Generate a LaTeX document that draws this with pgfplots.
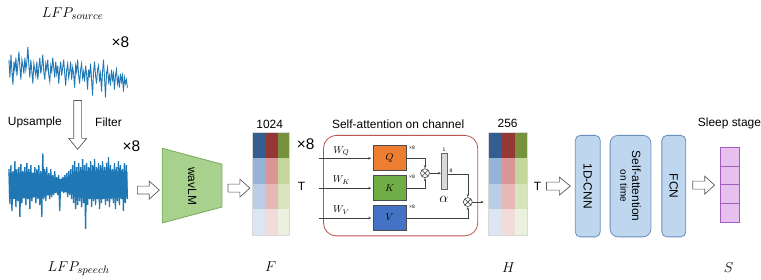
\documentclass[border=0pt]{standalone}
\usepackage{fontspec}
\setmainfont{Liberation Sans}
\usepackage{pgfplots}
\pgfplotsset{compat=1.18}
\usetikzlibrary{arrows.meta,plotmarks}
\definecolor{sig}{RGB}{31,119,180}
\definecolor{wlfill}{RGB}{169,209,142}
\definecolor{wldraw}{RGB}{120,170,90}
\definecolor{bA}{RGB}{52,93,145}\definecolor{rA}{RGB}{149,55,53}\definecolor{gA}{RGB}{118,146,60}
\definecolor{bB}{RGB}{149,179,215}\definecolor{rB}{RGB}{217,150,148}\definecolor{gB}{RGB}{195,214,155}
\definecolor{bC}{RGB}{185,205,229}\definecolor{rC}{RGB}{230,185,184}\definecolor{gC}{RGB}{215,228,188}
\definecolor{bD}{RGB}{220,230,242}\definecolor{rD}{RGB}{242,220,219}\definecolor{gD}{RGB}{235,241,222}
\definecolor{attn}{RGB}{184,84,80}
\definecolor{qcol}{RGB}{237,125,49}\definecolor{kcol}{RGB}{112,173,71}\definecolor{vcol}{RGB}{68,114,196}
\definecolor{boxfill}{RGB}{190,215,238}\definecolor{boxdraw}{RGB}{108,142,191}
\definecolor{slfill}{RGB}{232,192,240}\definecolor{sldraw}{RGB}{160,95,190}
\definecolor{arr}{RGB}{90,90,90}
\newcommand{\cell}[5]{\addplot[fill=#5,draw=none] coordinates {(#1,#2) (#3,#2) (#3,#4) (#1,#4)} -- cycle;}
\newcommand{\fs}{\fontsize{12}{13.5}\selectfont}
\begin{document}
\begin{tikzpicture}
\begin{axis}[scale only axis, width=761pt, height=280pt, xmin=0, xmax=761, ymin=0, ymax=280,
  y dir=reverse, hide axis, clip=false]
\addplot[draw=none, forget plot] coordinates {(0,0) (761,280)};
% top signal
\addplot[sig, line width=0.9pt] table {
9 60
10 78
11 55
12 72
13 85
14 62
15 70
16 58
17 76
18 64
19 52
20 68
21 80
22 60
23 66
24 74
25 58
26 70
27 62
28 47
29 66
30 78
31 60
32 72
33 84
34 64
35 70
36 76
37 62
38 80
39 68
40 58
41 74
42 66
43 55
44 72
45 80
46 64
47 70
48 60
49 76
50 82
51 66
52 72
53 58
54 68
55 78
56 62
57 74
58 66
59 84
60 70
61 62
62 76
63 68
64 60
65 74
66 86
67 70
68 64
69 78
70 72
71 62
72 80
73 68
74 74
75 88
76 66
77 72
78 60
79 76
80 84
81 70
82 64
83 78
84 72
85 82
86 66
87 74
88 90
89 70
90 78
91 64
92 80
93 96
94 72
95 62
96 76
97 84
98 70
99 66
100 80
101 74
102 92
103 72
104 60
105 78
106 98
107 74
108 68
109 82
110 76
111 86
112 70
113 80
114 74
115 90
116 76
117 70
118 84
119 78
120 88
121 74
122 82
123 76
124 92
125 78
126 84
127 80
128 88
};
% bottom signal core band
\addplot[fill=sig, draw=none] coordinates {(9,174) (30,173) (50,176) (60,180) (70,177) (80,172) (100,171) (128,173) (128,198) (100,200) (80,199) (70,194) (60,192) (50,196) (30,199) (9,200)} -- cycle;
% bottom signal
\addplot[sig, line width=1.3pt] table {
9 170
10 205
11 166
12 212
13 172
14 200
15 162
16 208
17 170
18 202
19 168
20 218
21 165
22 204
23 172
24 198
25 168
26 206
27 164
28 200
29 170
30 210
31 166
32 202
33 174
34 198
35 168
36 204
37 170
38 200
39 166
40 206
41 172
42 218
43 154
44 200
45 170
46 202
47 168
48 196
49 174
50 200
51 170
52 198
53 176
54 196
55 172
56 194
57 178
58 196
59 176
60 212
61 180
62 192
63 178
64 194
65 176
66 192
67 174
68 198
69 172
70 196
71 170
72 200
73 166
74 204
75 162
76 210
77 168
78 206
79 164
80 202
81 168
82 208
83 160
84 204
85 166
86 230
87 164
88 206
89 168
90 200
91 162
92 208
93 166
94 202
95 160
96 206
97 168
98 200
99 164
100 210
101 166
102 204
103 162
104 200
105 168
106 206
107 164
108 202
109 158
110 208
111 166
112 200
113 170
114 204
115 164
116 210
117 168
118 202
119 162
120 206
121 166
122 200
123 170
124 212
125 164
126 204
127 166
128 200
};
% hollow arrows
\addplot[draw=arr, fill=white, line width=0.7pt] coordinates {(74,101) (82,101) (82,139) (87,139) (78,150) (69,139) (74,139)} -- cycle;
\addplot[draw=arr, fill=white, line width=0.7pt] coordinates {(138,187) (150,187) (150,182) (160,191) (150,200) (150,195) (138,195)} -- cycle;
\addplot[draw=arr, fill=white, line width=0.7pt] coordinates {(229,185) (241,185) (241,180) (251,189) (241,198) (241,193) (229,193)} -- cycle;
\addplot[draw=arr, fill=white, line width=0.7pt] coordinates {(549,183) (562,183) (562,178) (573,187) (562,196) (562,191) (549,191)} -- cycle;
\addplot[draw=arr, fill=white, line width=0.7pt] coordinates {(696,182) (708,182) (708,177) (718,186) (708,195) (708,190) (696,190)} -- cycle;
% wavLM trapezoid
\addplot[draw=wldraw, fill=wlfill, line width=0.8pt] coordinates {(163,149) (223,165) (223,208) (163,224)} -- cycle;
% F matrix
\cell{253}{133}{266}{159}{bA}\cell{266}{133}{279}{159}{rA}\cell{279}{133}{291}{159}{gA}
\cell{253}{159}{266}{185}{bB}\cell{266}{159}{279}{185}{rB}\cell{279}{159}{291}{185}{gB}
\cell{253}{185}{266}{210}{bC}\cell{266}{185}{279}{210}{rC}\cell{279}{185}{291}{210}{gC}
\cell{253}{210}{266}{236}{bD}\cell{266}{210}{279}{236}{rD}\cell{279}{210}{291}{236}{gD}
\addplot[draw=black!15, line width=0.6pt] coordinates {(253,133) (291,133) (291,236) (253,236)} -- cycle;
% H matrix
\cell{491}{133}{504}{159}{bA}\cell{504}{133}{517}{159}{rA}\cell{517}{133}{530}{159}{gA}
\cell{491}{159}{504}{185}{bB}\cell{504}{159}{517}{185}{rB}\cell{517}{159}{530}{185}{gB}
\cell{491}{185}{504}{210}{bC}\cell{504}{185}{517}{210}{rC}\cell{517}{185}{530}{210}{gC}
\cell{491}{210}{504}{236}{bD}\cell{504}{210}{517}{236}{rD}\cell{517}{210}{530}{236}{gD}
\addplot[draw=black!15, line width=0.6pt] coordinates {(491,133) (530,133) (530,236) (491,236)} -- cycle;
% attention box
\addplot[draw=attn, line width=0.8pt, rounded corners=13pt] coordinates {(325,136) (480,136) (480,237) (325,237)} -- cycle;
% W lines
\addplot[black!75, line width=0.6pt, -{Stealth[length=3pt,width=2.5pt]}] coordinates {(320,159) (373,159)};
\addplot[black!75, line width=0.6pt, -{Stealth[length=3pt,width=2.5pt]}] coordinates {(320,189) (373,189)};
\addplot[black!75, line width=0.6pt, -{Stealth[length=3pt,width=2.5pt]}] coordinates {(320,219) (373,219)};
% Q K V boxes
\addplot[fill=qcol, draw=black!70, line width=0.7pt] coordinates {(375,146) (408,146) (408,171) (375,171)} -- cycle;
\addplot[fill=kcol, draw=black!70, line width=0.7pt] coordinates {(375,176) (408,176) (408,201) (375,201)} -- cycle;
\addplot[fill=vcol, draw=black!70, line width=0.7pt] coordinates {(375,206) (408,206) (408,231) (375,231)} -- cycle;
% connections
\addplot[black!75, line width=0.6pt, -{Stealth[length=3pt,width=2.5pt]}] coordinates {(409,159) (427,159) (427,169)};
\addplot[black!75, line width=0.6pt, -{Stealth[length=3pt,width=2.5pt]}] coordinates {(409,189) (427,189) (427,179)};
\addplot[black!75, line width=0.6pt, -{Stealth[length=3pt,width=2.5pt]}] coordinates {(431.5,174) (443,174)};
\addplot[black!75, line width=0.6pt, -{Stealth[length=3pt,width=2.5pt]}] coordinates {(449,175) (470,175) (470,198)};
\addplot[black!75, line width=0.6pt, -{Stealth[length=3pt,width=2.5pt]}] coordinates {(409,219) (470,219) (470,208)};
\addplot[black!75, line width=0.6pt, -{Stealth[length=3pt,width=2.5pt]}] coordinates {(474.5,203) (486,203)};
% alpha bar
\addplot[fill=black!15, draw=black!60, line width=0.6pt] coordinates {(443,154) (449,154) (449,190) (443,190)} -- cycle;
% otimes
\addplot[only marks, mark=otimes*, mark size=4.5pt, mark options={fill=white, draw=black!75, line width=0.6pt}] coordinates {(427,174) (470,203)};
% blue boxes
\addplot[fill=boxfill, draw=boxdraw, line width=0.8pt, rounded corners=5pt] coordinates {(578,136) (603,136) (603,238) (578,238)} -- cycle;
\addplot[fill=boxfill, draw=boxdraw, line width=0.8pt, rounded corners=8pt] coordinates {(613,136) (654,136) (654,238) (613,238)} -- cycle;
\addplot[fill=boxfill, draw=boxdraw, line width=0.8pt, rounded corners=5pt] coordinates {(665,136) (689,136) (689,238) (665,238)} -- cycle;
% sleep stage
\addplot[fill=slfill, draw=sldraw, line width=0.8pt] coordinates {(724,148) (743,148) (743,223) (724,223)} -- cycle;
\addplot[draw=sldraw, line width=0.8pt] coordinates {(724,166.75) (743,166.75)};
\addplot[draw=sldraw, line width=0.8pt] coordinates {(724,185.5) (743,185.5)};
\addplot[draw=sldraw, line width=0.8pt] coordinates {(724,204.25) (743,204.25)};
% texts
\node at (axis cs:73,14) {\fontsize{15}{17}\selectfont $LFP_{source}$};
\node at (axis cs:121,42) {\fontsize{15.5}{17}\selectfont ×8};
\node at (axis cs:35,123) {\fs Upsample};
\node at (axis cs:109,123) {\fs Filter};
\node at (axis cs:132,147) {\fontsize{15.5}{17}\selectfont ×8};
\node at (axis cs:79,270) {\fontsize{15}{17}\selectfont $LFP_{speech}$};
\node[rotate=-90] at (axis cs:193,187) {\fs wavLM};
\node at (axis cs:271,125) {\fs 1024};
\node at (axis cs:307,145) {\fontsize{15.5}{17}\selectfont ×8};
\node at (axis cs:303,187) {\fs T};
\node at (axis cs:272,268) {\fontsize{15}{17}\selectfont $F$};
\node at (axis cs:400,125) {\fs Self-attention on channel};
\node at (axis cs:343,152) {\fontsize{10}{12}\selectfont $W_Q$};
\node at (axis cs:343,181) {\fontsize{10}{12}\selectfont $W_K$};
\node at (axis cs:343,211) {\fontsize{10}{12}\selectfont $W_V$};
\node at (axis cs:391.5,158.5) {\fontsize{10}{12}\selectfont $Q$};
\node at (axis cs:391.5,188.5) {\fontsize{10}{12}\selectfont $K$};
\node at (axis cs:391.5,218.5) {\fontsize{10}{12}\selectfont $V$};
\node at (axis cs:414,148) {\fontsize{5}{6}\selectfont ×8};
\node at (axis cs:414,178) {\fontsize{5}{6}\selectfont ×8};
\node at (axis cs:414,208) {\fontsize{5}{6}\selectfont ×8};
\node at (axis cs:446,150) {\fontsize{5}{6}\selectfont 1};
\node at (axis cs:453,172) {\fontsize{5}{6}\selectfont 8};
\node at (axis cs:446,200) {\fontsize{14}{15}\selectfont $\alpha$};
\node at (axis cs:510,124) {\fs 256};
\node at (axis cs:540,187) {\fs T};
\node at (axis cs:511,269) {\fontsize{15}{17}\selectfont $H$};
\node[rotate=-90] at (axis cs:590.5,187) {\fs 1D-CNN};
\node[rotate=-90, align=center] at (axis cs:633.5,187) {\fs Self-attention\\on time};
\node[rotate=-90] at (axis cs:677,187) {\fs FCN};
\node[anchor=west, inner sep=0pt] at (axis cs:701,124) {\fs Sleep stage};
\node at (axis cs:732,269) {\fontsize{15}{17}\selectfont $S$};
\end{axis}
\end{tikzpicture}
\end{document}
